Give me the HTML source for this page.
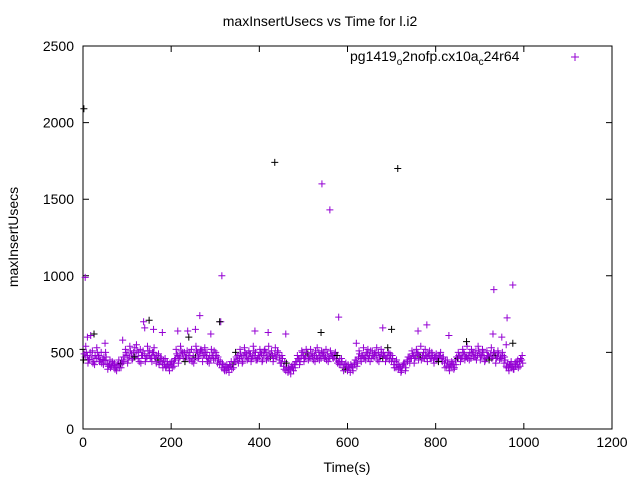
<!DOCTYPE html>
<html><head><meta charset="utf-8"><style>
body{margin:0;background:#fff;}
svg{display:block;font-family:"Liberation Sans",sans-serif;}
</style></head><body>
<svg id="chart" width="640" height="480" xmlns="http://www.w3.org/2000/svg">
<rect x="0" y="0" width="640" height="480" fill="#fff"/>
<g id="axes"></g>
<g id="marks"></g>
<text x="320" y="26" text-anchor="middle" font-size="14">maxInsertUsecs vs Time for l.i2</text>
<text x="347" y="472" text-anchor="middle" font-size="14">Time(s)</text>
<text transform="translate(18,237) rotate(-90)" text-anchor="middle" font-size="14">maxInsertUsecs</text>
<g>
<text x="350" y="61" font-size="14">pg1419<tspan font-size="10" dy="4">o</tspan><tspan dy="-4">2nofp.cx10a</tspan><tspan font-size="10" dy="4">c</tspan><tspan dy="-4">24r64</tspan></text>
<path d="M571 57h8M575 53v8" stroke="#9400d3" stroke-width="1"/>
</g>
</svg>
<script>
const xTicks=[0,200,400,600,800,1000,1200];
const yTicks=[0,500,1000,1500,2000,2500];
const bandStart=0, bandStep=5;
const seriesA=[520,470,480,455,470,440,460,470,450,455,445,430,420,410,415,400,420,425,430,470,480,470,490,500,475,460,520,480,490,470,480,470,500,460,450,440,430,420,410,400,420,430,460,480,470,490,500,470,480,460,480,470,500,490,510,480,470,460,450,480,460,430,420,400,390,380,400,410,420,440,450,460,470,480,470,460,490,470,480,450,470,490,480,500,460,470,480,490,470,450,430,410,380,370,390,400,420,440,460,470,480,470,490,460,470,480,470,500,460,480,470,490,460,480,470,450,440,420,400,390,380,400,410,430,450,470,460,480,470,490,480,460,470,480,500,470,460,480,470,450,440,420,400,390,400,410,430,450,470,460,480,470,490,470,480,460,470,480,460,450,470,460,480,440,430,410,400,410,420,450,460,480,470,490,470,480,460,500,470,480,490,480,470,460,480,490,470,480,470,450,460,430,410,400,420,410,430,420,440,450];
const seriesB=[490,500,450,610,430,480,500,440,430,470,470,410,400,430,390,420,400,450,440,500,450,510,460,530,510,440,480,700,460,510,460,500,470,480,420,460,450,400,420,430,400,450,490,460,510,460,470,640,500,440,450,510,470,520,480,500,440,480,480,510,480,450,700,420,410,400,420,390,440,470,430,490,440,500,450,490,460,510,450,480,500,450,520,470,490,510,460,470,500,430,460,440,400,390,410,380,440,460,440,500,460,500,470,490,450,510,460,480,490,460,450,470,490,460,500,430,460,440,420,410,400,420,380,450,430,490,480,460,500,460,510,480,500,450,470,490,480,460,500,480,460,440,420,410,380,430,400,470,460,490,460,500,480,450,500,480,490,460,480,470,450,480,460,470,450,430,420,430,400,470,480,460,500,470,460,500,490,470,450,510,470,500,450,480,470,460,500,460,490,470,480,450,430,420,400,390,440,400,460,430];
const seriesC=[450,540,430,500,510,420,530,480,500,420,500,390,450,440,430,380,450,400,470,520,430,540,450,470,550,500,430,510,440,540,510,440,530,430,490,470,400,460,440,380,440,410,520,430,540,500,440,510,450,520,430,540,460,510,440,530,500,430,520,450,500,470,440,430,380,420,370,440,400,500,480,520,430,530,490,510,440,540,500,460,520,440,510,450,540,490,440,530,510,470,480,390,430,400,360,420,400,480,420,510,440,520,450,520,490,440,530,450,510,500,520,440,510,470,490,480,420,460,380,430,420,370,400,420,410,510,440,530,450,520,440,510,490,530,440,520,500,440,530,490,480,400,450,420,370,420,380,440,430,510,430,520,450,540,460,520,440,510,500,430,490,440,500,470,400,450,380,440,390,420,500,440,520,450,540,450,520,470,510,540,450,520,440,510,450,530,500,430,510,460,500,470,400,380,440,390,410,450,410,480];
const extraTimes=[10,25,50,90,140,150,160,180,215,240,255,265,290,310,390,420,460,540,580,620,680,700,760,780,830,870,930,950,960,975];
const extraValues=[600,620,560,580,660,710,650,630,640,600,650,740,620,700,640,630,620,630,730,560,660,650,640,680,610,570,620,600,550,560];
const outTimes=[2,5,315,435,542,560,714,932,962,975];
const outValues=[2090,990,1000,1740,1600,1430,1700,910,725,940];
const outBlack=[1,0,0,1,0,0,1,0,0,0];
const X0=83,X1=612,Y0=429,Y1=46;
const sx=v=>X0+(v/1200)*(X1-X0);
const sy=v=>Y0-(v/2500)*(Y0-Y1);
const NS="http://www.w3.org/2000/svg";
const axes=document.getElementById('axes'), marks=document.getElementById('marks');
function mk(tag,attrs,parent){const e=document.createElementNS(NS,tag);for(const k in attrs)e.setAttribute(k,attrs[k]);parent.appendChild(e);return e;}
const frame=mk('rect',{x:X0,y:Y1,width:X1-X0,height:Y0-Y1,fill:'none',stroke:'#000','stroke-width':1},axes);


xTicks.forEach(t=>{
  const x=sx(t);
  const tk=mk('path',{d:`M${x} ${Y0}v-6M${x} ${Y1}v6`,stroke:'#000'},axes);
  
  
  const l=mk('text',{x:x,y:Y0+18,'text-anchor':'middle','font-size':14},axes);
  l.textContent=t;
  
  
});
yTicks.forEach(t=>{
  const y=sy(t);
  const tk=mk('path',{d:`M${X0} ${y}h6M${X1} ${y}h-6`,stroke:'#000'},axes);
  
  
  const l=mk('text',{x:X0-9,y:y+5,'text-anchor':'end','font-size':14},axes);
  l.textContent=t;
  
  
});
function plus(t,v,col){
  const x=sx(t),y=sy(v);
  const p=mk('path',{d:`M${x-3.5} ${y}h7M${x} ${y-3.5}v7`,stroke:col,'stroke-width':1},marks);
  
  
}
const P='#9400d3';
seriesA.forEach((v,i)=>plus(bandStart+i*bandStep,v,i%17===0?'#000':P));
seriesB.forEach((v,i)=>plus(bandStart+i*bandStep+2.5,v,P));
seriesC.forEach((v,i)=>plus(bandStart+i*bandStep+1.25,v,i%23===0?'#000':P));
extraTimes.forEach((t,i)=>plus(t,extraValues[i],i%4===1?'#000':P));
outTimes.forEach((t,i)=>plus(t,outValues[i],outBlack[i]?'#000':P));
</script>
</body></html>
